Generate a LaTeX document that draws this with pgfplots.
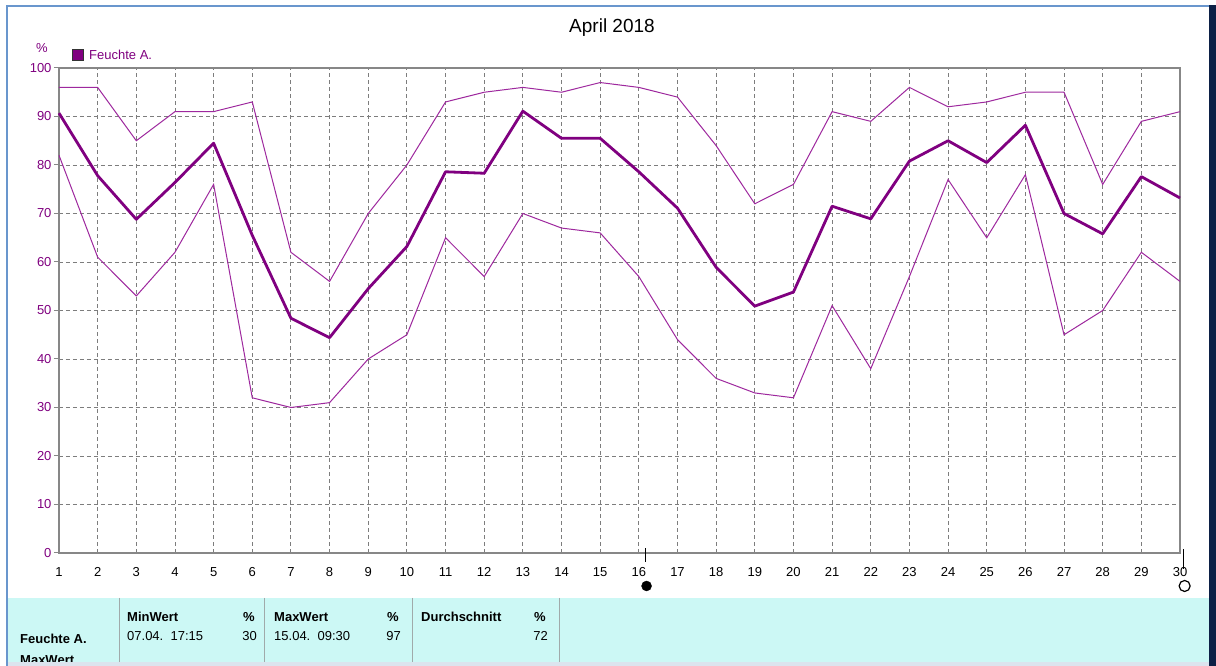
\documentclass[border=0pt]{standalone}
\usepackage{pgfplots}
\pgfplotsset{compat=1.18}
\usepackage{pgfplotstable}
\usepackage{fontspec}
\setmainfont{Liberation Sans}
\definecolor{pur}{RGB}{128,0,128}
\definecolor{thinpur}{RGB}{158,40,158}
\definecolor{framegray}{RGB}{135,135,135}
\definecolor{gridgray}{RGB}{125,125,125}
\definecolor{tabcyan}{RGB}{204,248,245}
\definecolor{tabline}{RGB}{160,170,170}
\definecolor{winblue}{RGB}{105,150,205}
\definecolor{winnavy}{RGB}{12,32,70}
\definecolor{botstrip}{RGB}{220,228,238}
\newcommand{\fs}{\fontsize{13}{15}\selectfont}

\pgfplotstableread{
day max min avg
1  96 82 90.7
2  96 61 77.8
3  85 53 68.8
4  91 62 76.4
5  91 76 84.5
6  93 32 65.5
7  62 30 48.4
8  56 31 44.4
9  70 40 54.5
10 80 45 63.2
11 93 65 78.6
12 95 57 78.3
13 96 70 91.1
14 95 67 85.5
15 97 66 85.5
16 96 57 78.6
17 94 44 71.1
18 84 36 58.9
19 72 33 50.9
20 76 32 53.8
21 91 51 71.5
22 89 38 68.9
23 96 57 80.8
24 92 77 85.0
25 93 65 80.5
26 95 78 88.2
27 95 45 70.0
28 76 50 65.8
29 89 62 77.6
30 91 56 73.2
}\humid

\begin{document}
\begin{tikzpicture}
\begin{scope}[x=1pt,y=-1pt,shift={(-59pt,553pt)}]
  \path[use as bounding box] (0,0) rectangle (1216,666);
  \fill[white] (0,0) rectangle (1216,666);
  % table area
  \fill[tabcyan] (8,598) rectangle (1209,662);
  \fill[botstrip] (8,662) rectangle (1216,666);
  \foreach \xx in {119,264,412,559} {\draw[tabline, line width=1pt] (\xx,598) -- (\xx,662);}
  \begin{scope}
    \clip (8,598) rectangle (1209,662);
    \node[anchor=base west, inner sep=0pt, font=\fs\bfseries] at (20,644) {Feuchte A.};
    \node[anchor=base west, inner sep=0pt, font=\fs\bfseries] at (20,665) {MaxWert};
    \node[anchor=base west, inner sep=0pt, font=\fs\bfseries] at (127,622) {MinWert};
    \node[anchor=base east, inner sep=0pt, font=\fs\bfseries] at (255,622) {\%};
    \node[anchor=base west, inner sep=0pt, font=\fs] at (127,641) {07.04.\ \ 17:15};
    \node[anchor=base east, inner sep=0pt, font=\fs] at (257,641) {30};
    \node[anchor=base west, inner sep=0pt, font=\fs\bfseries] at (274,622) {MaxWert};
    \node[anchor=base east, inner sep=0pt, font=\fs\bfseries] at (399,622) {\%};
    \node[anchor=base west, inner sep=0pt, font=\fs] at (274,641) {15.04.\ \ 09:30};
    \node[anchor=base east, inner sep=0pt, font=\fs] at (401,641) {97};
    \node[anchor=base west, inner sep=0pt, font=\fs\bfseries] at (421,622) {Durchschnitt};
    \node[anchor=base east, inner sep=0pt, font=\fs\bfseries] at (546,622) {\%};
    \node[anchor=base east, inner sep=0pt, font=\fs] at (548,641) {72};
  \end{scope}
  % window border
  \draw[winblue, line width=2pt] (7,666) -- (7,6) -- (1209,6);
  \fill[winnavy] (1209,5) rectangle (1216,666);
  % title, unit, legend
  \node[font=\fontsize{19}{22}\selectfont, anchor=base] at (612,33) {April 2018};
  \node[font=\fs, text=pur, anchor=base] at (42,53) {\%};
  \filldraw[fill=pur, draw=black!80, line width=0.8pt] (72,49) rectangle (83,60);
  \node[font=\fs, text=pur, anchor=base west, inner sep=0pt] at (89,60) {Feuchte A.};
\end{scope}

\begin{axis}[
  at={(0,0)}, anchor=south west,
  scale only axis, width=1121pt, height=485pt,
  xmin=1, xmax=30, ymin=0, ymax=100,
  xtick={1,...,30}, ytick={0,10,...,100},
  ytick pos=left,
  grid=major,
  major grid style={gridgray, dash pattern=on 4pt off 3pt, line width=0.9pt},
  axis line style={framegray, line width=2.8pt},
  xtick style={draw=none},
  ytick style={framegray, line width=1pt},
  tick align=outside, major tick length=5pt,
  /pgf/number format/assume math mode=true,
  xticklabel style={font=\fs, text=black, yshift=-6pt},
  yticklabel style={font=\fs, text=pur, xshift=1pt},
  clip=false,
]
\addplot[thinpur, line width=1pt] table[x=day, y=max] {\humid};
\addplot[thinpur, line width=1pt] table[x=day, y=min] {\humid};
\addplot[pur, line width=2.8pt, line join=round] table[x=day, y=avg] {\humid};
% time markers below the axis
\draw[black, line width=1pt] (axis cs:16.17,1.0) -- (axis cs:16.17,-1.9);
\addplot[only marks, mark=*, mark size=5pt, black] coordinates {(16.2,-6.8)};
\draw[black, line width=1pt] (axis cs:30.1,0.8) -- (axis cs:30.1,-3.3);
\addplot[only marks, mark=o, mark size=5.5pt, black, line width=1.2pt] coordinates {(30.12,-6.8)};
\end{axis}
\end{tikzpicture}
\end{document}
